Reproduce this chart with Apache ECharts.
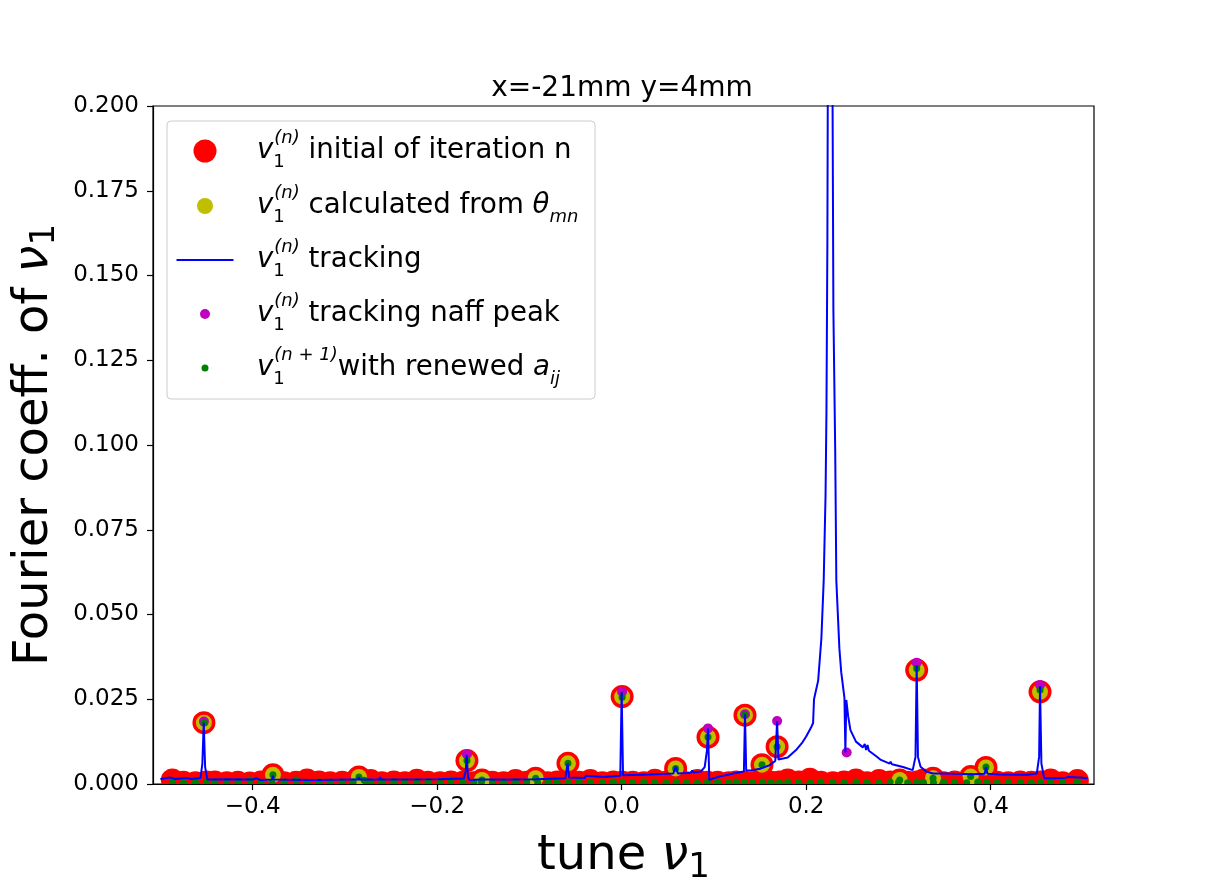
<!DOCTYPE html>
<html>
<head>
<meta charset="utf-8">
<script src="https://cdn.jsdelivr.net/npm/echarts@6/dist/echarts.min.js"></script>
<style>
html, body { margin: 0; padding: 0; background: #fff; }
#chart { width: 1214px; height: 881px; }
</style>
</head>
<body>
<div id="chart"></div>
<script>
// baseline points of the iteration (red) and renewed (green) sets
var baseTune = [-0.487, -0.475, -0.462, -0.450, -0.441, -0.428, -0.416, -0.403, -0.391, -0.379,
    -0.366, -0.353, -0.341, -0.328, -0.316, -0.303, -0.291, -0.279, -0.272, -0.260,
    -0.247, -0.235, -0.222, -0.210, -0.197, -0.185, -0.172, -0.160, -0.152, -0.140,
    -0.128, -0.115, -0.103, -0.091, -0.080, -0.070, -0.058, -0.046, -0.034, -0.021,
    -0.009, 0.001, 0.012, 0.024, 0.036, 0.048, 0.059, 0.070, 0.082, 0.093,
    0.104, 0.116, 0.124, 0.133, 0.142, 0.153, 0.162, 0.171, 0.180, 0.192,
    0.204, 0.216, 0.229, 0.241, 0.254, 0.266, 0.279, 0.291, 0.300, 0.310,
    0.320, 0.327, 0.338, 0.349, 0.361, 0.374, 0.386, 0.396, 0.407, 0.419,
    0.432, 0.444, 0.454, 0.465, 0.478, 0.494];
var baseRed = [0.0012, 0.0005, 0.0004, 0.0006, 0.0006, 0.0004, 0.0005, 0.0003, 0.0006, 0.0008,
    0.0004, 0.0005, 0.0012, 0.0006, 0.0004, 0.0005, 0.0006, 0.0004, 0.0010, 0.0004,
    0.0006, 0.0004, 0.0011, 0.0005, 0.0004, 0.0006, 0.0005, 0.0004, 0.0005, 0.0005,
    0.0004, 0.0010, 0.0005, 0.0006, 0.0004, 0.0006, 0.0005, 0.0005, 0.0010, 0.0004,
    0.0006, 0.0005, 0.0005, 0.0004, 0.0011, 0.0005, 0.0006, 0.0004, 0.0010, 0.0005,
    0.0005, 0.0004, 0.0006, 0.0005, 0.0004, 0.0006, 0.0005, 0.0006, 0.0012, 0.0006,
    0.0014, 0.0005, 0.0004, 0.0006, 0.0012, 0.0004, 0.0010, 0.0006, 0.0005, 0.0005,
    0.0006, 0.0012, 0.0005, 0.0004, 0.0006, 0.0005, 0.0004, 0.0006, 0.0005, 0.0004,
    0.0006, 0.0005, 0.0006, 0.0012, 0.0004, 0.0010];
var baseGreen = [0.0006, 0.0004, 0.0005, 0.0007, 0.0005, 0.0004, 0.0006, 0.0012, 0.0005, 0.0004,
    0.0006, 0.0012, 0.0004, 0.0006, 0.0005, 0.0004, 0.0006, 0.0011, 0.0004, 0.0005,
    0.0006, 0.0004, 0.0005, 0.0006, 0.0004, 0.0012, 0.0005, 0.0004, 0.0006, 0.0005,
    0.0004, 0.0006, 0.0005, 0.0004, 0.0006, 0.0005, 0.0004, 0.0006, 0.0005, 0.0004,
    0.0006, 0.0005, 0.0004, 0.0006, 0.0005, 0.0004, 0.0006, 0.0005, 0.0004, 0.0006,
    0.0005, 0.0004, 0.0006, 0.0005, 0.0004, 0.0006, 0.0005, 0.0004, 0.0006, 0.0005,
    0.0004, 0.0006, 0.0005, 0.0004, 0.0006, 0.0005, 0.0004, 0.0006, 0.0005, 0.0004,
    0.0006, 0.0005, 0.0004, 0.0006, 0.0005, 0.0004, 0.0006, 0.0005, 0.0004, 0.0006,
    0.0005, 0.0004, 0.0006, 0.0005, 0.0004, 0.0006];

// lines found by the iteration (red, yellow and green sit on the same tunes)
var peakTune = [-0.4528, -0.378, -0.2848, -0.1677, -0.1514, -0.0932, -0.0582, 0.0005, 0.0585, 0.0936, 0.1337, 0.1521, 0.1685,
    0.3014, 0.3198, 0.3375, 0.3783, 0.3949, 0.4535];
var peakAmp = [0.0181, 0.0027, 0.0021, 0.0069, 0.0012, 0.0017, 0.0061, 0.0258, 0.0046, 0.0138, 0.0203, 0.0057, 0.0110,
    0.0012, 0.0336, 0.0017, 0.0022, 0.0049, 0.0272];
var peakGreen = [0.0181, 0.0027, 0.0021, 0.0069, 0.0012, 0.0017, 0.0061, 0.0256, 0.0046, 0.0139, 0.0204, 0.0057, 0.0110,
    0.0012, 0.0341, 0.0017, 0.0022, 0.0050, 0.0277];

// naff peaks of the tracking spectrum
var naffTune = [-0.4528, -0.1677, 0.0005, 0.0936, 0.1337, 0.1685, 0.2439, 0.3198, 0.4535];
var naffAmp = [0.0184, 0.0088, 0.0272, 0.0164, 0.0206, 0.0186, 0.0093, 0.0358, 0.0292];

// tracking spectrum
var trackTune = [-0.500, -0.490, -0.484, -0.472, -0.466, -0.4565, -0.4545, -0.4530, -0.4515, -0.4490, -0.430, -0.400, -0.396,
    -0.392, -0.3790, -0.3780, -0.3770, -0.330, -0.300, -0.2860, -0.2850, -0.2840, -0.2630, -0.2620, -0.2610, -0.200,
    -0.1710, -0.1690, -0.1680, -0.1665, -0.165, -0.1525, -0.1515, -0.1505, -0.120, -0.093, -0.0610, -0.0595, -0.0585,
    -0.0570, -0.0400, -0.0390, -0.0380, -0.020, -0.0015, 0.0000, 0.0015, 0.030, 0.0560, 0.0585, 0.0610, 0.0750, 0.0765,
    0.0780, 0.0860, 0.0900, 0.0925, 0.0936, 0.0950, 0.100, 0.106, 0.115, 0.125, 0.1325, 0.1337, 0.1350, 0.140, 0.150,
    0.160, 0.1665, 0.1685, 0.1700, 0.180, 0.189, 0.196, 0.200, 0.205, 0.2075, 0.2085, 0.213, 0.2165, 0.219, 0.221, 0.222,
    0.223, 0.2235, 0.2255, 0.2265, 0.2285, 0.2295, 0.2315, 0.2327, 0.236, 0.238, 0.2415, 0.2425, 0.2435, 0.2455, 0.248,
    0.254, 0.2615, 0.2635, 0.2650, 0.2665, 0.268, 0.276, 0.281, 0.2905, 0.2915, 0.293, 0.305, 0.3155, 0.3185, 0.3198,
    0.3212, 0.324, 0.330, 0.3375, 0.345, 0.360, 0.380, 0.3935, 0.3949, 0.3965, 0.410, 0.440, 0.450, 0.4525, 0.4535,
    0.4550, 0.458, 0.470, 0.480, 0.4845, 0.4865, 0.497, 0.505];
var trackAmp = [0.0015, 0.0019, 0.0015, 0.0018, 0.0015, 0.0018, 0.0060, 0.0181, 0.0050, 0.0013, 0.0014, 0.0013, 0.0017,
    0.0012, 0.0013, 0.0024, 0.0013, 0.0012, 0.0013, 0.0013, 0.0020, 0.0013, 0.0013, 0.0021, 0.0013, 0.0014,
    0.0016, 0.0040, 0.0086, 0.0020, 0.0012, 0.0013, 0.0016, 0.0013, 0.0013, 0.0014, 0.0017, 0.0045, 0.0061,
    0.0019, 0.0018, 0.0024, 0.0019, 0.0021, 0.0024, 0.0272, 0.0026, 0.0028, 0.0031, 0.0051, 0.0031, 0.0033, 0.0040,
    0.0034, 0.0037, 0.0050, 0.0100, 0.0164, 0.0012, 0.0017, 0.0022, 0.0027, 0.0033, 0.0037, 0.0206, 0.0040, 0.0040, 0.0045,
    0.0055, 0.0068, 0.0186, 0.0072, 0.0078, 0.0100, 0.0123, 0.0140, 0.0165, 0.0180, 0.0250, 0.0305, 0.0430, 0.060, 0.085, 0.110,
    0.160, 0.210, 0.320, 0.340, 0.210, 0.140, 0.098, 0.060, 0.040, 0.033, 0.0254, 0.0093, 0.0248, 0.0200, 0.0159,
    0.0125, 0.0108, 0.0118, 0.0100, 0.0115, 0.0098, 0.0082, 0.0071, 0.0060, 0.0066, 0.0058, 0.0050, 0.0041, 0.0080, 0.0350,
    0.0080, 0.0051, 0.0037, 0.0031, 0.0031, 0.0030, 0.0029, 0.0030, 0.0050, 0.0030, 0.0028, 0.0027, 0.0031, 0.0080, 0.0288,
    0.0060, 0.0017, 0.0017, 0.0018, 0.0021, 0.0017, 0.0019, 0.0017];

var xTicks = [-0.4, -0.2, 0.0, 0.2, 0.4];

function pairs(xs, ys) {
    return xs.map(function (x, i) { return [x, ys[i]]; });
}

var FONT = 'DejaVu Sans';
var chart = echarts.init(document.getElementById('chart'));

// rich text pieces for the math labels
function mathRich(size, gap) {
    var small = Math.round(size * 0.67);
    return {
        gap: { width: gap, fontSize: size, fontFamily: FONT },
        v: { fontFamily: FONT, fontStyle: 'italic', fontSize: size, lineHeight: 44, color: '#000' },
        s1: { fontFamily: FONT, fontSize: small, height: 22, lineHeight: 22, verticalAlign: 'bottom', width: 1, color: '#000' },
        sp: { fontFamily: FONT, fontStyle: 'italic', fontSize: small, height: 18, lineHeight: 18, verticalAlign: 'top', color: '#000' },
        sb: { fontFamily: FONT, fontStyle: 'italic', fontSize: small, height: 22, lineHeight: 22, verticalAlign: 'bottom', color: '#000' },
        t: { fontFamily: FONT, fontSize: size, lineHeight: 44, color: '#000' }
    };
}

var legendText = {
    initial: '{gap| }{v|v}{s1|1}{sp|(n)}{t| initial of iteration n}',
    calc: '{gap| }{v|v}{s1|1}{sp|(n)}{t| calculated from }{v|θ}{sb|mn}',
    track: '{gap| }{v|v}{s1|1}{sp|(n)}{t| tracking}',
    naff: '{gap| }{v|v}{s1|1}{sp|(n)}{t| tracking naff peak}',
    renew: '{gap| }{v|v}{s1|1}{sp|(n + 1)}{t|with renewed }{v|a}{sb|ij}'
};

function legendRow(name, icon, w, h, centerY) {
    return {
        data: [{ name: name, icon: icon }],
        left: 205 - w / 2,
        top: centerY - 22,
        padding: 0,
        itemWidth: w,
        itemHeight: h,
        selectedMode: false,
        formatter: function (n) { return legendText[n]; },
        textStyle: { rich: mathRich(27.6, 47 - w / 2) }
    };
}

var axisNameRich = {
    t: { fontFamily: FONT, fontSize: 48, color: '#000' },
    nu: { fontFamily: FONT, fontStyle: 'italic', fontSize: 48, color: '#000' },
    s: { fontFamily: FONT, fontSize: 34, color: '#000', padding: [22, 0, 0, 0] }
};

chart.setOption({
    animation: false,
    backgroundColor: '#fff',
    title: {
        text: 'x=-21mm y=4mm',
        left: 622,
        textAlign: 'center',
        top: 75,
        padding: 0,
        textStyle: { fontFamily: FONT, fontWeight: 'normal', fontSize: 28, color: '#000' }
    },
    grid: {
        left: 153,
        right: 120,
        top: 106,
        bottom: 97,
        outerBoundsMode: 'none',
        show: true,
        borderColor: '#000',
        borderWidth: 1.2,
        backgroundColor: 'transparent'
    },
    legend: [
        legendRow('initial', 'circle', 23, 23, 151),
        legendRow('calc', 'circle', 16, 16, 206),
        legendRow('track', 'rect', 57, 2, 260),
        legendRow('naff', 'circle', 10, 10, 314),
        legendRow('renew', 'circle', 7, 7, 368)
    ],
    graphic: [
        // legend frame
        {
            type: 'rect', z: 1,
            shape: { x: 167, y: 121, width: 428, height: 278, r: 4 },
            style: { fill: 'rgba(255,255,255,0.8)', stroke: '#cccccc', lineWidth: 1 }
        },
        // clip markers that spill below the axes
        {
            type: 'rect', z: 5,
            shape: { x: 130, y: 785, width: 990, height: 16 },
            style: { fill: '#fff' }
        }
    ],
    xAxis: {
        type: 'value',
        min: -0.508,
        max: 0.512,
        z: 10,
        name: '{t|tune }{nu|ν}{s|1}',
        nameLocation: 'middle',
        nameGap: 45,
        nameTextStyle: { rich: axisNameRich },
        axisLine: { show: true, onZero: false, lineStyle: { color: '#000', width: 1.2 } },
        axisTick: { show: true, length: 6, customValues: xTicks, lineStyle: { color: '#000', width: 1.2 } },
        axisLabel: {
            customValues: xTicks,
            margin: 12,
            fontFamily: FONT,
            fontSize: 23,
            color: '#000',
            formatter: function (v) {
                return (v < 0 ? '\u2212' : '') + Math.abs(v).toFixed(1);
            }
        },
        splitLine: { show: false }
    },
    yAxis: {
        type: 'value',
        min: 0,
        max: 0.2,
        interval: 0.025,
        z: 10,
        name: '{t|Fourier coeff. of }{nu|ν}{s|1}',
        nameLocation: 'middle',
        nameRotate: 90,
        nameGap: 84,
        nameTextStyle: { rich: axisNameRich },
        axisLine: { show: true, onZero: false, lineStyle: { color: '#000', width: 1.2 } },
        axisTick: { show: true, length: 6, lineStyle: { color: '#000', width: 1.2 } },
        axisLabel: {
            margin: 14,
            fontFamily: FONT,
            fontSize: 23,
            color: '#000',
            formatter: function (v) { return v.toFixed(3); }
        },
        splitLine: { show: false }
    },
    series: [
        {
            name: 'initial',
            type: 'scatter',
            symbolSize: 23,
            itemStyle: { color: '#ff0000', opacity: 1 },
            data: pairs(baseTune, baseRed).concat(pairs(peakTune, peakAmp))
        },
        {
            name: 'calc',
            type: 'scatter',
            symbolSize: 16,
            itemStyle: { color: '#bfbf00', opacity: 1 },
            data: pairs(peakTune, peakAmp)
        },
        {
            name: 'track',
            type: 'line',
            symbol: 'none',
            clip: true,
            itemStyle: { color: '#0000ff' },
            lineStyle: { color: '#0000ff', width: 2 },
            data: pairs(trackTune, trackAmp)
        },
        {
            name: 'naff',
            type: 'scatter',
            symbolSize: 10,
            itemStyle: { color: '#bf00bf', opacity: 1 },
            data: pairs(naffTune, naffAmp)
        },
        {
            name: 'renew',
            type: 'scatter',
            symbolSize: 7,
            itemStyle: { color: '#008000', opacity: 1 },
            data: pairs(baseTune, baseGreen).concat(pairs(peakTune, peakGreen))
        }
    ]
});
</script>
</body>
</html>
